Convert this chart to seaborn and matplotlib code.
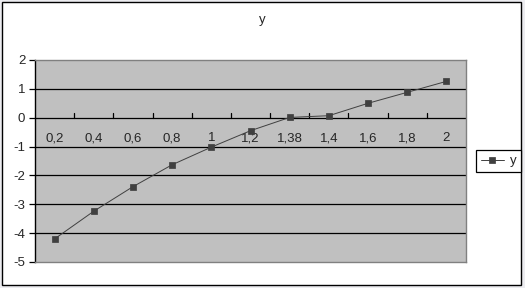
import matplotlib
matplotlib.use("Agg")
import matplotlib.pyplot as plt
import seaborn as sns
import pandas as pd
from matplotlib.patches import Rectangle

# Data
x_labels = ["0,2", "0,4", "0,6", "0,8", "1", "1,2", "1,38", "1,4", "1,6", "1,8", "2"]
y_values = [-4.20, -3.24, -2.39, -1.63, -1.02, -0.45, 0.01, 0.07, 0.50, 0.88, 1.26]
y_ticks = [-5, -4, -3, -2, -1, 0, 1, 2]
series_name = "y"
title = "y"

sns.set_style("white")
plt.rcParams["font.family"] = ["Liberation Sans", "DejaVu Sans"]

df = pd.DataFrame({"x": x_labels, "y": y_values})

W, H = 525, 288
FS = 9.5
fig = plt.figure(figsize=(W / 100, H / 100), dpi=100)
fig.patch.set_facecolor("#ECECF0")
# outer white chart area with black border
fig.patches.append(Rectangle((1.5 / W, 1 - 284.5 / H), (520.5 - 1.5) / W, (284.5 - 1.5) / H,
                             transform=fig.transFigure, facecolor="white",
                             edgecolor="black", linewidth=1.0, zorder=-5))

L, R, T, B = 35, 466, 60, 262
ax = fig.add_axes([L / W, 1 - B / H, (R - L) / W, (B - T) / H])
ax.set_zorder(1)
ax.set_facecolor("#C0C0C0")

sns.pointplot(data=df, x="x", y="y", order=x_labels, ax=ax, color="#404040",
              markers="s", markersize=4.5, linewidth=0.7, label=series_name,
              errorbar=None)
for line in ax.lines:
    line.set_markeredgecolor("#404040")
    line.set_zorder(3)

ax.set_xlim(-0.5, len(x_labels) - 0.5)
ax.set_ylim(-5, 2)
ax.set_yticks(y_ticks)
ax.set_yticklabels([str(t) for t in y_ticks], fontsize=FS)
ax.set_xlabel("")
ax.set_ylabel("")

# horizontal gridlines
for t in y_ticks[1:-1]:
    ax.axhline(t, color="black", linewidth=0.9, zorder=1)

# frame
for side in ["top", "right", "bottom"]:
    ax.spines[side].set_color("#808080")
    ax.spines[side].set_linewidth(1.0)
ax.spines["left"].set_color("black")
ax.spines["left"].set_linewidth(1.0)

ax.tick_params(axis="y", direction="out", length=4, width=0.9, color="black", pad=3, left=True)

# x axis drawn at y=0 with category labels below it
ax.set_xticks([])
for i in range(1, len(x_labels)):
    ax.plot([i - 0.5, i - 0.5], [0, 0.17], color="black", linewidth=0.9, zorder=2)
for i, lab in enumerate(x_labels):
    ax.text(i, -0.5, lab, ha="center", va="top", fontsize=FS, zorder=2)

fig.text(0.5, 1 - 20 / H, title, ha="center", va="center", fontsize=FS)

leg = ax.legend(loc="center left", bbox_to_anchor=((476 - L) / (R - L), (B - 161) / (B - T)),
                bbox_transform=ax.transAxes, frameon=True, fancybox=False,
                fontsize=FS, handlelength=1.8, borderpad=0.35, handletextpad=0.4,
                borderaxespad=0)
leg.get_frame().set_edgecolor("black")
leg.get_frame().set_linewidth(0.9)
leg.get_frame().set_facecolor("white")
leg.get_frame().set_alpha(1)

fig.savefig("out.png", dpi=100, facecolor=fig.get_facecolor())
